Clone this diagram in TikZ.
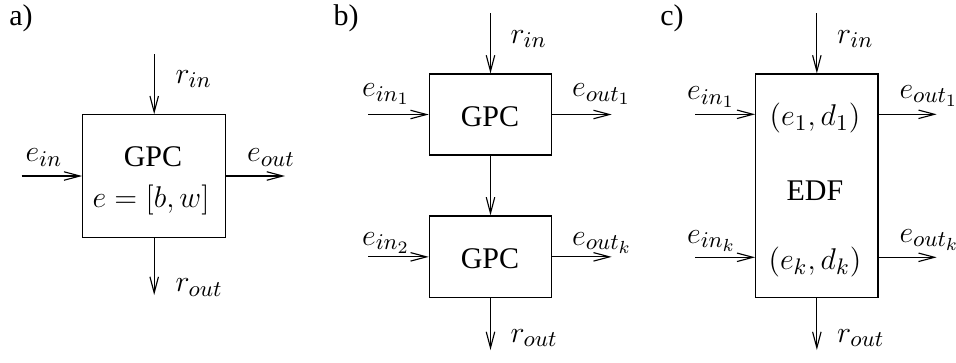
\documentclass[tikz,border=0pt,12pt]{standalone}
\usepackage[no-math]{fontspec}
\setmainfont{Liberation Serif}
\DeclareMathSizes{12}{12}{9}{7}
\DeclareMathSizes{12.5}{12.5}{9.5}{7}
\usetikzlibrary{arrows.meta}
\begin{document}
\begin{tikzpicture}[x=0.4pt,y=-0.4pt,
  box/.style={draw, line width=0.45pt, inner sep=0pt},
  arr/.style={line width=0.45pt, -{Straight Barb[length=6.4pt,width=3.4pt,line width=0.45pt]}},
  lab/.style={anchor=base west, inner sep=0pt},
  txt/.style={anchor=base, inner sep=0pt},
  big/.style={font=\fontsize{12.5}{15}\selectfont}]
\useasboundingbox (0,0) rectangle (956,362);
% panel labels
\node[txt] (la) at (21,25) {a)};
\node[txt] (lb) at (346,25) {b)};
\node[txt] (lc) at (672,25) {c)};
% ---------- a ----------
\node[box, minimum width=57.2pt, minimum height=49pt] (A) at (154.2,176) {};
\node[txt] (tA1) at (153,166.7) {GPC};
\node[txt] (tA2) at (151,207.5) {\(e=[b,w]\)};
\coordinate (Arin) at (154.2,54);
\coordinate (Aein) at (21.7,176);
\coordinate (Aeout) at (285,176);
\coordinate (Arout) at (154.2,295);
\draw[arr] (Arin) -- (A.north);
\draw[arr] (Aein) -- (A.west);
\draw[arr] (A.east) -- (Aeout);
\draw[arr] (A.south) -- (Arout);
\node[lab] (Lrin) at (175,83) {\(r_{in}\)};
\node[lab] (Lein) at (25,161.5) {\(e_{in}\)};
\node[lab] (Leout) at (246.7,161.5) {\(e_{out}\)};
\node[lab] (Lrout) at (175,291.5) {\(r_{out}\)};
% ---------- b ----------
\node[box, minimum width=48.96pt, minimum height=32.4pt] (B1) at (490.5,114.5) {};
\node[box, minimum width=48.96pt, minimum height=32.7pt] (B2) at (490.5,256.85) {};
\node[txt] (tB1) at (490,126) {GPC};
\node[txt] (tB2) at (490,268.3) {GPC};
\coordinate (Brin) at (490.5,13);
\coordinate (Bein1) at (368.3,114.5);
\coordinate (Beout1) at (611.7,114.5);
\coordinate (Bein2) at (368.3,256.85);
\coordinate (Beout2) at (611.7,256.85);
\coordinate (Brout) at (490.5,350);
\draw[arr] (Brin) -- (B1.north);
\draw[arr] (Bein1) -- (B1.west);
\draw[arr] (B1.east) -- (Beout1);
\draw[arr] (B1.south) -- (B2.north);
\draw[arr] (Bein2) -- (B2.west);
\draw[arr] (B2.east) -- (Beout2);
\draw[arr] (B2.south) -- (Brout);
\node[lab] (LBrin) at (510,43) {\(r_{in}\)};
\node[lab] (LBein1) at (361.7,96.5) {\(e_{in_1}\)};
\node[lab] (LBeout1) at (571.7,96.5) {\(e_{out_1}\)};
\node[lab] (LBein2) at (361.7,245) {\(e_{in_2}\)};
\node[lab] (LBeout2) at (571.7,245) {\(e_{out_k}\)};
\node[lab] (LBrout) at (510,342) {\(r_{out}\)};
% ---------- c ----------
\node[box, minimum width=48.9pt, minimum height=89.5pt] (C) at (816.85,185.85) {};
\node[txt, big] (tC1) at (815,125.5) {\((e_1,d_1)\)};
\node[txt] (tC2) at (815,200) {EDF};
\node[txt, big] (tC3) at (815,269) {\((e_k,d_k)\)};
\coordinate (Crin) at (816.85,13);
\coordinate (Cein1) at (695,114.3);
\coordinate (Ceout1) at (936.7,114.3);
\coordinate (Cein2) at (695,257.3);
\coordinate (Ceout2) at (936.7,257.3);
\coordinate (Crout) at (816.85,350);
\draw[arr] (Crin) -- (C.north);
\draw[arr] (Cein1) -- (Cein1 -| C.west);
\draw[arr] (Ceout1 -| C.east) -- (Ceout1);
\draw[arr] (Cein2) -- (Cein2 -| C.west);
\draw[arr] (Ceout2 -| C.east) -- (Ceout2);
\draw[arr] (C.south) -- (Crout);
\node[lab] (LCrin) at (836.7,43) {\(r_{in}\)};
\node[lab] (LCein1) at (686.7,99.5) {\(e_{in_1}\)};
\node[lab] (LCeout1) at (899,98) {\(e_{out_1}\)};
\node[lab] (LCein2) at (686.7,243) {\(e_{in_k}\)};
\node[lab] (LCeout2) at (899,242) {\(e_{out_k}\)};
\node[lab] (LCrout) at (836.7,342) {\(r_{out}\)};
\end{tikzpicture}
\end{document}
